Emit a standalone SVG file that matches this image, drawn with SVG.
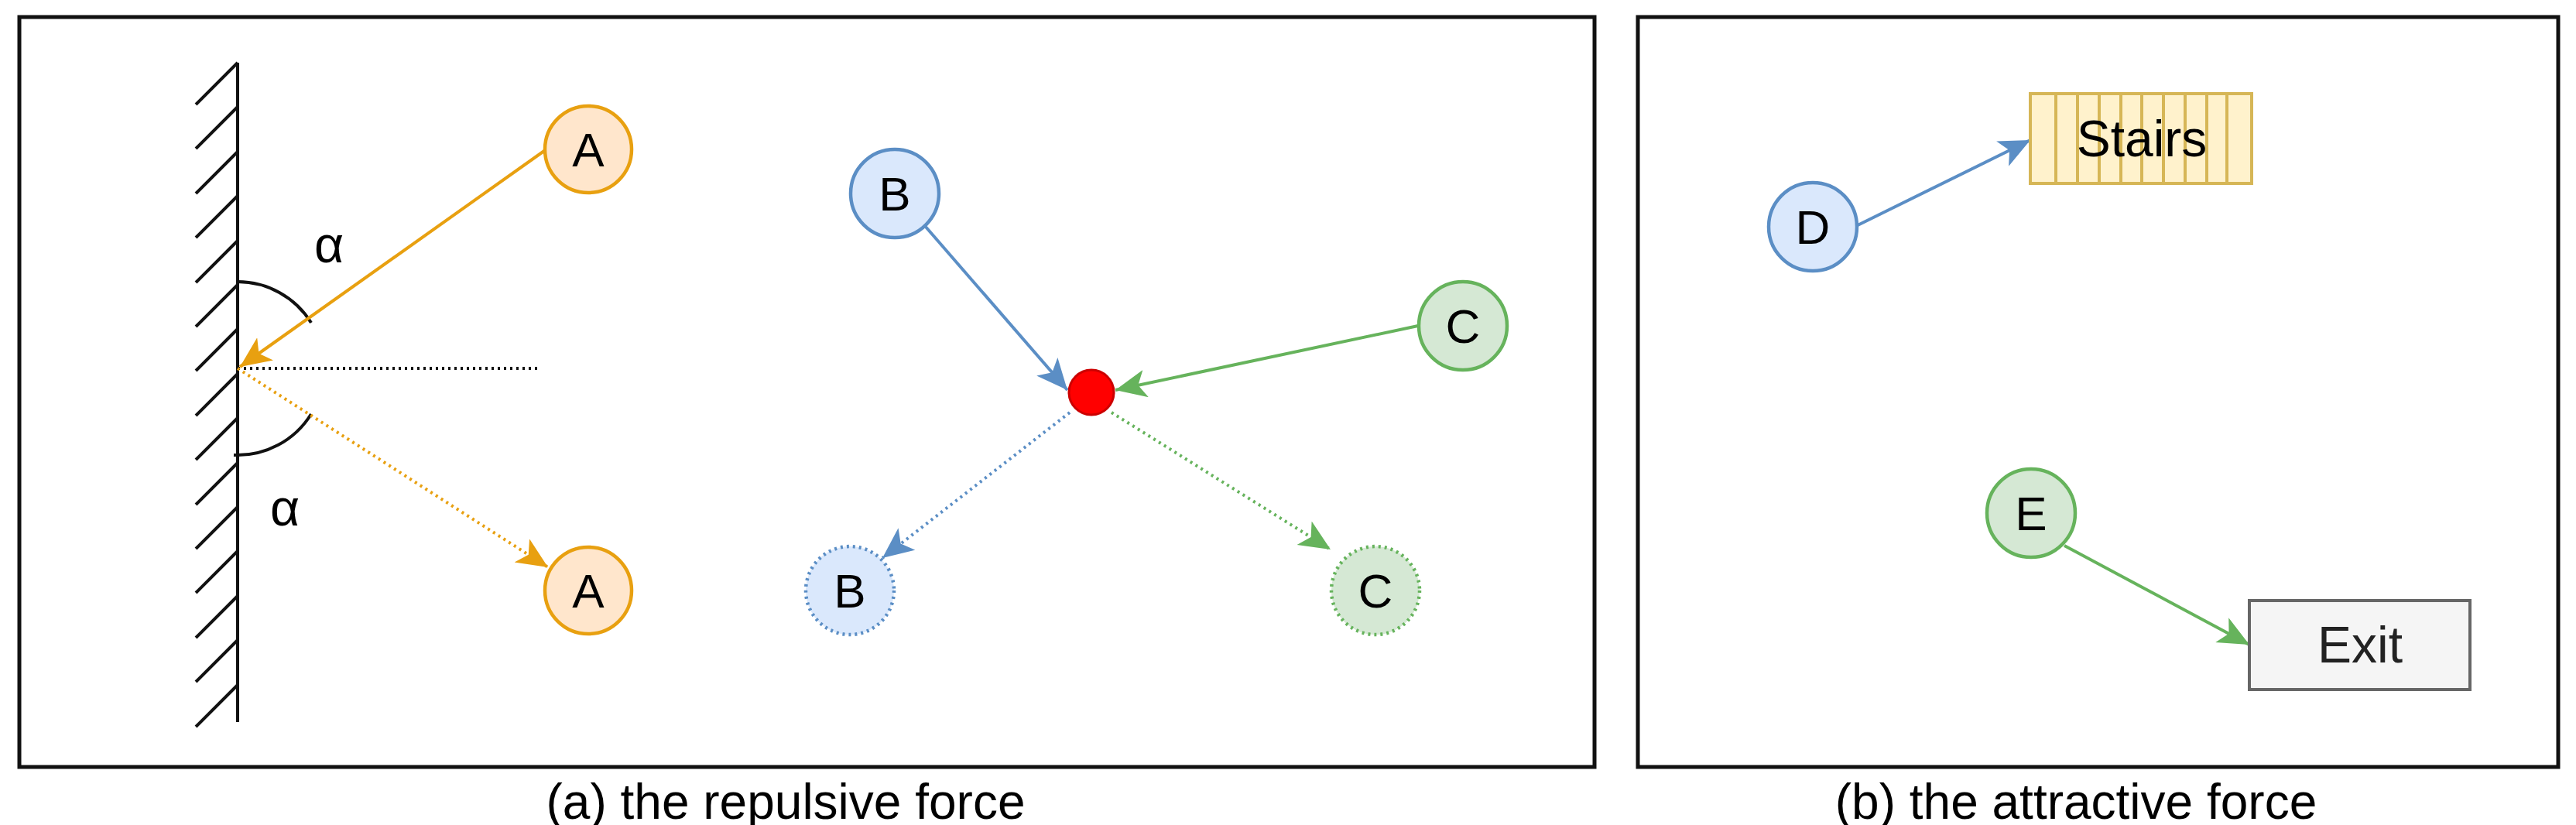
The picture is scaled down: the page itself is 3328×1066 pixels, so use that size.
<svg xmlns="http://www.w3.org/2000/svg" width="3328" height="1066" viewBox="0 0 3328 1066">
<style>
text{font-family:"Liberation Sans",Arial,sans-serif;fill:#000}
.lbl{font-size:62px;text-anchor:middle;dominant-baseline:central}
.big{font-size:66px}
.cap{font-size:64px;text-anchor:middle}
.frame{fill:none;stroke:#111;stroke-width:5}
.or{fill:#ffe6cc;stroke:#e8a010;stroke-width:4.5}
.bl{fill:#dae8fc;stroke:#5b8ec5;stroke-width:4.5}
.gr{fill:#d5e8d4;stroke:#66b35c;stroke-width:4.5}
.dot{stroke-dasharray:3 5}
.lo{stroke:#e8a010;stroke-width:4;fill:none}
.lb{stroke:#5b8ec5;stroke-width:4;fill:none}
.lg{stroke:#66b35c;stroke-width:4;fill:none}
.ln{stroke:#111;stroke-width:4;fill:none}
</style>
<defs>
<marker id="ao" markerUnits="userSpaceOnUse" markerWidth="50" markerHeight="50" refX="40" refY="18" orient="auto"><path d="M0,0 L40,18 L0,36 L10,18 Z" fill="#e8a010"/></marker>
<marker id="ab" markerUnits="userSpaceOnUse" markerWidth="50" markerHeight="50" refX="40" refY="18" orient="auto"><path d="M0,0 L40,18 L0,36 L10,18 Z" fill="#5b8ec5"/></marker>
<marker id="ag" markerUnits="userSpaceOnUse" markerWidth="50" markerHeight="50" refX="40" refY="18" orient="auto"><path d="M0,0 L40,18 L0,36 L10,18 Z" fill="#66b35c"/></marker>
</defs>
<rect width="3328" height="1066" fill="#fff"/>
<rect class="frame" x="25" y="22" width="2035" height="969"/>
<rect class="frame" x="2116" y="22" width="1189" height="969"/>
<g id="wall">
<line class="ln" x1="307" y1="81" x2="307" y2="933"/>
<path class="ln" d="M307,81 l-54,54 M307,138 l-54,54 M307,196 l-54,54 M307,253 l-54,54 M307,311 l-54,54 M307,368 l-54,54 M307,425 l-54,54 M307,483 l-54,54 M307,540 l-54,54 M307,598 l-54,54 M307,655 l-54,54 M307,712 l-54,54 M307,770 l-54,54 M307,827 l-54,54 M307,885 l-54,54"/>
<path class="ln" d="M307,364 A112,112 0 0 1 402,417"/>
<path class="ln" d="M402,535 A112,112 0 0 1 302,588"/>
<text x="425" y="316" class="lbl big">α</text>
<text x="368" y="656" class="lbl big">α</text>
</g>
<g id="connectors">
<line class="ln dot" x1="307" y1="476" x2="698" y2="476"/>
<line class="lo" x1="703" y1="195" x2="310" y2="474" marker-end="url(#ao)"/>
<line class="lo dot" x1="307" y1="476" x2="708" y2="733" marker-end="url(#ao)"/>
<line class="lb" x1="1195" y1="292" x2="1379" y2="504" marker-end="url(#ab)"/>
<line class="lg" x1="1832" y1="421" x2="1441" y2="504" marker-end="url(#ag)"/>
<line class="lb dot" x1="1382" y1="533" x2="1140" y2="721" marker-end="url(#ab)"/>
<line class="lg dot" x1="1436" y1="533" x2="1719" y2="710" marker-end="url(#ag)"/>
<line class="lb" x1="2400" y1="291" x2="2623" y2="181" marker-end="url(#ab)"/>
<line class="lg" x1="2667" y1="705" x2="2906" y2="833" marker-end="url(#ag)"/>
</g>
<g id="A1"><circle class="or" cx="760" cy="193" r="56"/><text class="lbl" x="760" y="193">A</text></g>
<g id="A2"><circle class="or" cx="760" cy="763" r="56"/><text class="lbl" x="760" y="763">A</text></g>
<g id="B1"><circle class="bl" cx="1156" cy="250" r="57"/><text class="lbl" x="1156" y="250">B</text></g>
<g id="C1"><circle class="gr" cx="1890" cy="421" r="57"/><text class="lbl" x="1890" y="421">C</text></g>
<g id="P"><circle cx="1410" cy="507" r="29" fill="#ff0000" stroke="#cc0000" stroke-width="3"/></g>
<g id="B2"><circle class="bl dot" cx="1098" cy="763" r="57"/><text class="lbl" x="1098" y="763">B</text></g>
<g id="C2"><circle class="gr dot" cx="1777" cy="763" r="57"/><text class="lbl" x="1777" y="763">C</text></g>
<g id="Stairs">
<rect x="2623" y="121" width="286" height="116" fill="#fff2cc" stroke="#d6b656" stroke-width="4"/>
<path d="M2656,121v116M2684,121v116M2712,121v116M2740,121v116M2767,121v116M2795,121v116M2823,121v116M2851,121v116M2877,121v116" stroke="#d6b656" stroke-width="4"/>
<text class="lbl big" x="2767" y="179">Stairs</text>
</g>
<g id="D"><circle class="bl" cx="2342" cy="293" r="57"/><text class="lbl" x="2342" y="293">D</text></g>
<g id="E"><circle class="gr" cx="2624" cy="663" r="57"/><text class="lbl" x="2624" y="663">E</text></g>
<g id="Exit"><rect x="2906" y="776" width="285" height="115" fill="#f5f5f5" stroke="#666" stroke-width="4"/><text class="lbl big" x="3049" y="833" style="fill:#222">Exit</text></g>
<text class="cap" x="1015" y="1058">(a) the repulsive force</text>
<text class="cap" x="2682" y="1058">(b) the attractive force</text>
</svg>
